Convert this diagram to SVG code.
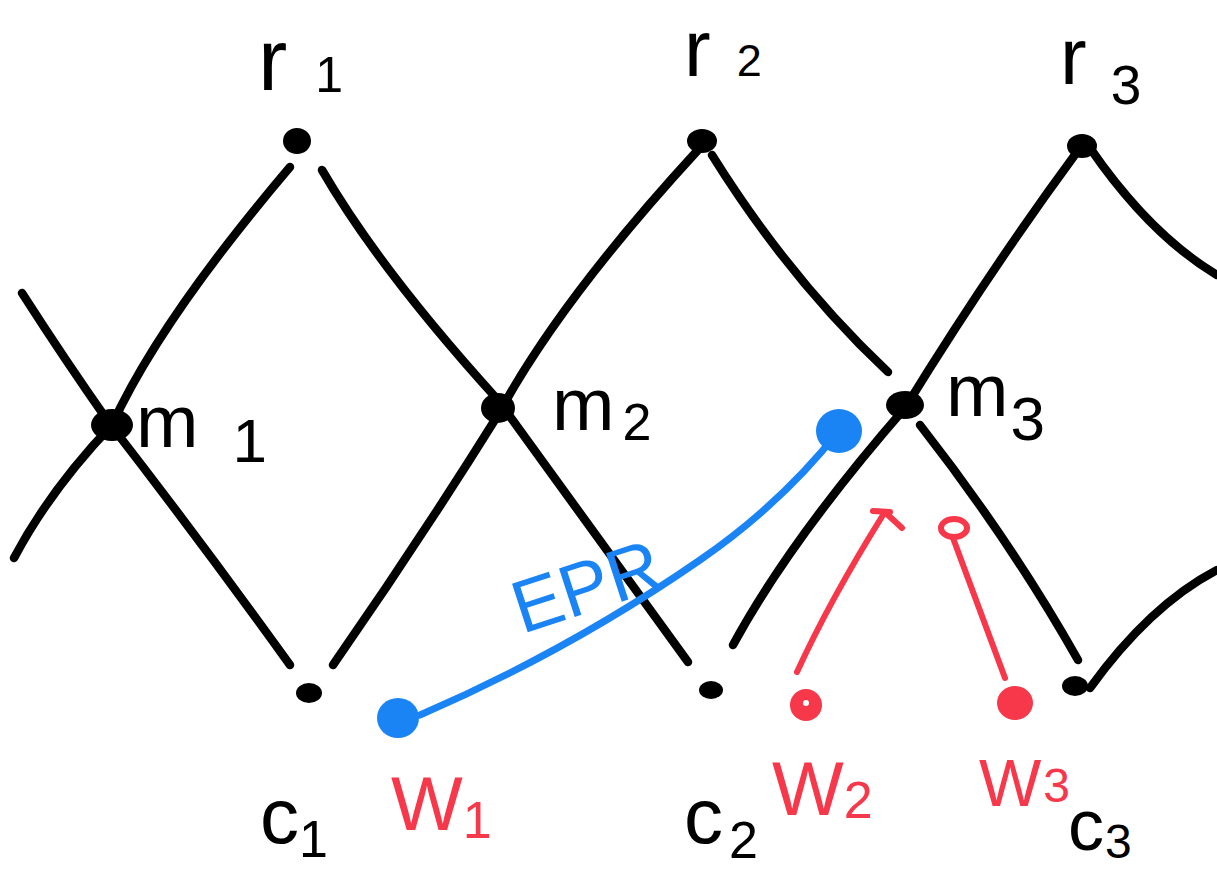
<svg xmlns="http://www.w3.org/2000/svg" width="1217" height="874" viewBox="0 0 1217 874">
<style>
.ln{fill:none;stroke:#000;stroke-width:8.5;stroke-linecap:round;stroke-linejoin:round}
.bl{fill:none;stroke:#1a84f5;stroke-width:7;stroke-linecap:round;stroke-linejoin:round}
.rd{fill:none;stroke:#f7374a;stroke-width:6;stroke-linecap:round;stroke-linejoin:round}
.dot{fill:#000}
.t{font-family:"Liberation Sans",Arial,sans-serif;fill:#000}
.tr{font-family:"Liberation Sans",Arial,sans-serif;fill:#f7374a}
.tb{font-family:"Liberation Sans",Arial,sans-serif;fill:#1a84f5}
</style>
<rect width="1217" height="874" fill="#fff"/>
<g id="connectors">
<path class="ln" d="M22,293 Q65,360 110,424 Q200,540 290,665"/>
<path class="ln" d="M14,558 Q50,490 112,425 Q160,320 290,167"/>
<path class="ln" d="M322,170 Q380,270 498,400 Q600,540 688,662"/>
<path class="ln" d="M333,665 Q420,540 498,415 Q560,300 698,150"/>
<path class="ln" d="M712,155 Q790,280 888,372"/>
<path class="ln" d="M733,645 Q790,540 905,408 Q990,270 1077,152"/>
<path class="ln" d="M920,425 Q1010,540 1078,660"/>
<path class="ln" d="M1090,148 Q1150,235 1217,275"/>
<path class="ln" d="M1090,688 Q1150,605 1217,570"/>
<path class="bl" d="M420,715 Q570,650 700,560 Q780,505 838,432"/>
<path class="rd" d="M797,672 Q830,600 883,515 M873,511 L890,512 M888,515 L902,528"/>
<path class="rd" d="M1005,678 Q980,610 953,538"/>
<ellipse class="rd" cx="954" cy="528" rx="13" ry="9"/>
</g>
<g id="r1"><ellipse class="dot" cx="297" cy="141" rx="14" ry="13"/><text class="t" x="258" y="90" font-size="88">r<tspan dx="28" dy="2" font-size="50">1</tspan></text></g>
<g id="r2"><ellipse class="dot" cx="702" cy="141" rx="15" ry="12"/><text class="t" x="684" y="76" font-size="80">r<tspan dx="26" dy="0" font-size="45">2</tspan></text></g>
<g id="r3"><ellipse class="dot" cx="1082" cy="146" rx="15" ry="12"/><text class="t" x="1060" y="84" font-size="80">r<tspan dx="24" dy="20" font-size="55">3</tspan></text></g>
<g id="m1"><ellipse class="dot" cx="112" cy="425" rx="21" ry="16"/><text class="t" x="136" y="447" font-size="75">m<tspan dx="34" dy="15" font-size="62">1</tspan></text></g>
<g id="m2"><ellipse class="dot" cx="498" cy="408" rx="17" ry="15"/><text class="t" x="552" y="430" font-size="75">m<tspan dx="8" dy="10" font-size="52">2</tspan></text></g>
<g id="m3"><ellipse class="dot" cx="905" cy="405" rx="19" ry="14"/><text class="t" x="946" y="416" font-size="75">m<tspan dx="2" dy="24" font-size="62">3</tspan></text></g>
<g id="c1"><ellipse class="dot" cx="309" cy="693" rx="13" ry="10"/><text class="t" x="260" y="843" font-size="78">c<tspan dx="0" dy="14" font-size="52">1</tspan></text></g>
<g id="c2"><ellipse class="dot" cx="711" cy="690" rx="12" ry="9"/><text class="t" x="684" y="843" font-size="78">c<tspan dx="6" dy="15" font-size="52">2</tspan></text></g>
<g id="c3"><ellipse class="dot" cx="1075" cy="686" rx="13" ry="10"/><text class="t" x="1068" y="850" font-size="72">c<tspan dx="1" dy="8" font-size="48">3</tspan></text></g>
<g id="w1"><ellipse cx="398" cy="718" rx="21" ry="20" fill="#1a84f5"/><text class="tr" x="391" y="830" font-size="76">W<tspan dx="0" dy="8" font-size="52">1</tspan></text></g>
<g id="w2"><ellipse cx="806" cy="705" rx="16" ry="16" fill="#f7374a"/><circle cx="806" cy="703" r="3" fill="#fff"/><text class="tr" x="772" y="815" font-size="76">W<tspan dx="0" dy="3" font-size="52">2</tspan></text></g>
<g id="w3"><ellipse cx="1015" cy="703" rx="18" ry="17" fill="#f7374a"/><text class="tr" x="979" y="806" font-size="66">W<tspan dx="2" dy="-4" font-size="48">3</tspan></text></g>
<g id="epr-end"><ellipse cx="839" cy="431" rx="23" ry="22" fill="#1a84f5"/></g>
<g id="epr-label"><text class="tb" x="0" y="0" font-size="74" transform="translate(522,634) rotate(-18)">EPR</text></g>
</svg>
